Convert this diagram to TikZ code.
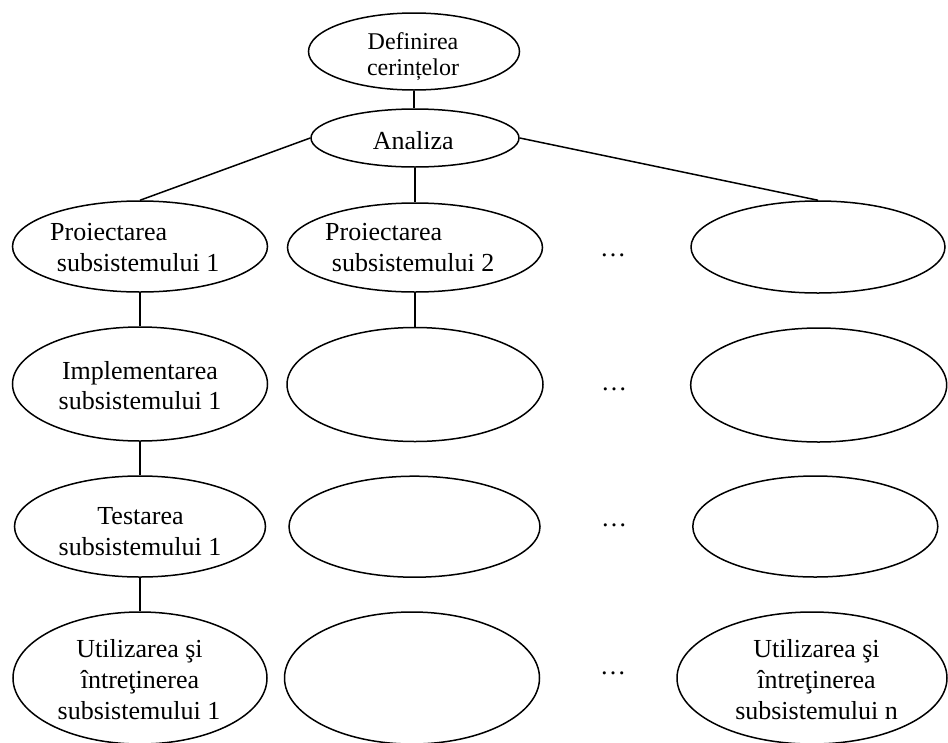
\documentclass[tikz,border=0pt]{standalone}
\usepackage{fontspec}
\setmainfont{Liberation Serif}
\usetikzlibrary{shapes.geometric}

\tikzset{
  stage/.style={draw, ellipse, inner sep=0pt, line width=1.5pt},
  txt/.style={anchor=base, inner sep=0pt, font=\fontsize{26}{30}\selectfont},
  txtl/.style={txt, anchor=base west},
  small/.style={anchor=base, inner sep=0pt, font=\fontsize{24}{28}\selectfont},
  link/.style={line width=1.5pt},
}

\begin{document}
\begin{tikzpicture}[x=1pt, y=-1pt]
  \useasboundingbox (0,0) rectangle (948,742);

  % top of the tree
  \node[stage, minimum width=211pt, minimum height=77pt] (def) at (414,51.5) {};
  \node[stage, minimum width=208pt, minimum height=58pt] (an) at (415,138) {};

  % row 1: design
  \node[stage, minimum width=255pt, minimum height=91pt] (p1) at (140,246.5) {};
  \node[stage, minimum width=255pt, minimum height=89pt] (p2) at (415,247.5) {};
  \node[stage, minimum width=254pt, minimum height=92pt] (pn) at (818,247) {};

  % row 2: implementation
  \node[stage, minimum width=255pt, minimum height=114pt] (i1) at (140,384) {};
  \node[stage, minimum width=256pt, minimum height=114pt] (i2) at (415,384.5) {};
  \node[stage, minimum width=256pt, minimum height=114pt] (in) at (818.7,385) {};

  % row 3: testing
  \node[stage, minimum width=251pt, minimum height=101pt] (t1) at (140,526.5) {};
  \node[stage, minimum width=251pt, minimum height=101pt] (t2) at (414.5,526.7) {};
  \node[stage, minimum width=245pt, minimum height=101pt] (tn) at (815.3,526.5) {};

  % row 4: use and maintenance
  \node[stage, minimum width=254pt, minimum height=132pt] (u1) at (140,678) {};
  \node[stage, minimum width=255pt, minimum height=132pt] (u2) at (412,678) {};
  \node[stage, minimum width=270pt, minimum height=132pt] (un) at (812,678) {};

  % connectors
  \draw[link] (def.south) -- (def.south |- an.north);
  \draw[link] (an.west) -- (p1.north);
  \draw[link] (an.south) -- (p2.north);
  \draw[link] (an.east) -- (pn.north);
  \draw[link] (p1.south) -- (i1.north);
  \draw[link] (p2.south) -- (i2.north);
  \draw[link] (i1.south) -- (t1.north);
  \draw[link] (t1.south) -- (u1.north);

  % labels
  \node[small] (defa) at (413,49) {Definirea};
  \node[small] (defb) at (413,75) {cerințelor};
  \node[txt] (ana) at (413.3,149.5) {Analiza};

  \node[txtl] (p1a) at (50,240) {Proiectarea};
  \node[txtl] (p1b) at (56.7,271.7) {subsistemului 1};
  \node[txtl] (p2a) at (325,240) {Proiectarea};
  \node[txtl] (p2b) at (331.7,271.7) {subsistemului 2};

  \node[txt] (i1a) at (140,379) {Implementarea};
  \node[txt] (i1b) at (140,409.3) {subsistemului 1};

  \node[txt] (t1a) at (140.5,524) {Testarea};
  \node[txt] (t1b) at (140,555) {subsistemului 1};

  \node[txt] (u1a) at (139.5,657.3) {Utilizarea şi};
  \node[txt] (u1b) at (140,688.3) {întreţinerea};
  \node[txt] (u1c) at (139,719) {subsistemului 1};

  \node[txt] (una) at (816.5,657.3) {Utilizarea şi};
  \node[txt] (unb) at (816.5,688) {întreţinerea};
  \node[txt] (unc) at (816.5,719) {subsistemului n};

  % ellipsis marks between the columns
  \node[txt] (dots1) at (613,256) {…};
  \node[txt] (dots2) at (614,390) {…};
  \node[txt] (dots3) at (614,526) {…};
  \node[txt] (dots4) at (613,674) {…};
\end{tikzpicture}
\end{document}
